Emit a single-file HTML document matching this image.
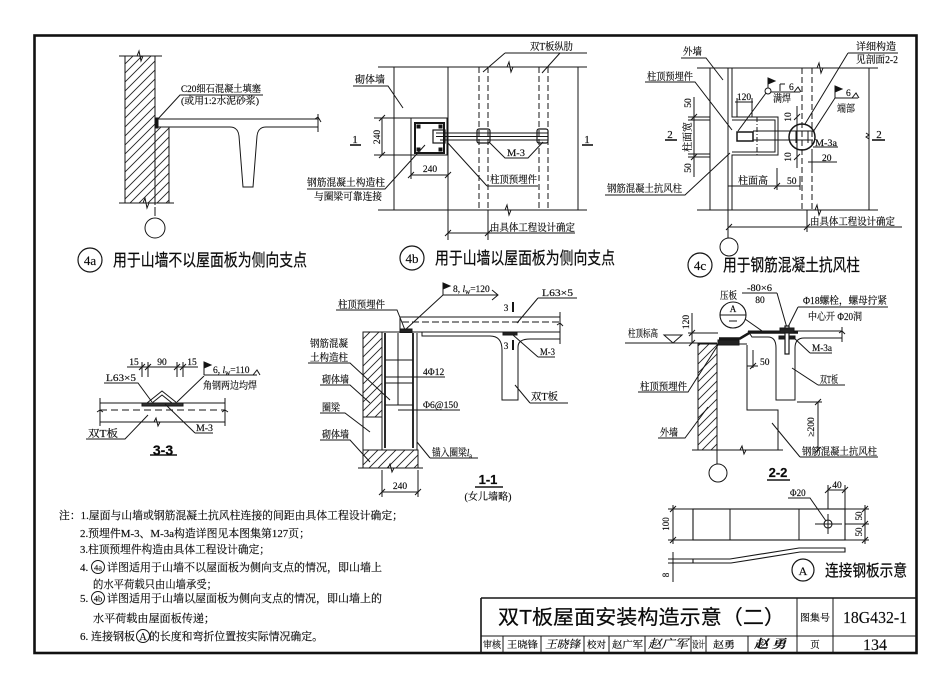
<!DOCTYPE html>
<html><head><meta charset="utf-8">
<style>
html,body{margin:0;padding:0;background:#fff;}
svg{display:block;}
text{fill:#0a0a0a;}
.s text{stroke:#0a0a0a;stroke-width:0.15;}
.s{font-family:"Liberation Serif","Noto Serif CJK SC",serif;font-size:10px;}
.h{font-family:"Liberation Sans","Noto Sans CJK SC",sans-serif;}
.h text{stroke:#0a0a0a;stroke-width:0.2;}
</style></head><body>
<svg width="950" height="691" viewBox="0 0 950 691" xmlns="http://www.w3.org/2000/svg">
<defs>
<pattern id="hat" patternUnits="userSpaceOnUse" width="9" height="9">
<path d="M0,9 L9,0 M-2,2 L2,-2 M7,11 L11,7" stroke="#222" stroke-width="0.9"/>
</pattern>
</defs>
<rect width="950" height="691" fill="#fff"/>

<!-- frame -->
<rect x="34.5" y="35.5" width="882" height="617.5" fill="none" stroke="#111" stroke-width="2.6"/>

<g fill="none" stroke="#161616" stroke-width="1">

<!-- ============ 4a ============ -->
<rect x="125" y="56" width="30" height="147" fill="url(#hat)"/>
<rect x="155" y="127" width="14" height="76" fill="url(#hat)"/>
<path d="M125,56 V203 M155,56 V127 H169 V203"/>
<path d="M119,56 H162 M119,203 H174"/>
<path d="M137,56 l2,-5 l2,10 l2,-5" />
<path d="M143,203 l2,-5 l2,10 l2,-5" />
<rect x="155" y="118" width="3" height="10" fill="#111"/>
<path d="M157,119 H318 M157,127 H230 Q238,127 239,136 L243,187 H253 L257,136 Q258,127 266,127 H318"/>
<path d="M318,114 V132 M315,119 l3,-2 l3,5"/>
<path d="M155,132 V218" stroke-dasharray="9,2,2,2"/>
<circle cx="155" cy="228" r="10"/>
<path d="M157,120 L180,95 H263"/>

<!-- ============ 4b ============ -->
<path d="M378,67 H587 M378,210 H587 M394,67 V210 M448,67 V240 M578,67 V210"/>
<path d="M507,67 l2,-5 l2,10 l2,-5 M505,210 l2,-5 l2,10 l2,-5"/>
<path d="M479,67 V210 M488,67 V210 M539,67 V210 M548,67 V210" stroke-dasharray="6,3"/>
<path d="M488,210 V240"/>
<rect x="411" y="118" width="36" height="37"/>
<rect x="415" y="123" width="29" height="30" stroke-width="2"/>
<rect x="417" y="125" width="3" height="3" fill="#111"/>
<rect x="439" y="125" width="3" height="3" fill="#111"/>
<rect x="417" y="148" width="3" height="3" fill="#111"/>
<rect x="439" y="148" width="3" height="3" fill="#111"/>
<rect x="433" y="130" width="12" height="13" stroke-width="1.2"/>
<path d="M436,133 H548 M436,136.5 H548 M440,140 H548"/>
<rect x="477" y="129" width="13" height="14" rx="2" stroke-width="1.2"/>
<rect x="537" y="129" width="11" height="14" rx="2" stroke-width="1.2"/>
<path d="M382,118 V155 M374,118 H411 M374,155 H411 M379,121 L385,115 M379,158 L385,152"/>
<path d="M411,155 V179 M411,175 H448 M408,178 L414,172 M445,178 L451,172"/>
<path d="M350,145 H361" stroke-width="1.6"/>
<path d="M582,145 H593" stroke-width="1.6"/>
<path d="M353,86 H388 L403,108"/>
<path d="M505,53 H587 M505,53 L483,72 M560,53 L542,73"/>
<path d="M489,142 L505,158 H528 L543,142"/>
<path d="M487,186 H538 M487,186 L447,142"/>
<path d="M307,189 H385 L425,145"/>
<path d="M448,233 H488 M445,236 L451,230 M485,236 L491,230 M488,233 H575"/>

<!-- ============ 4c ============ -->
<path d="M697,68 H878 M697,210 H878"/>
<path d="M817,68 l2,-5 l2,10 l2,-5 M815,210 l2,-5 l2,10 l2,-5"/>
<path d="M710,68 V210 M728,68 V238 M732,68 V117 H778 V155 H732 V210 M732,120 H775 V152 H732 M869,68 V210"/>
<path d="M866,133 l3,2 l-3,2 l3,2"/>
<path d="M802,68 V210 M812,68 V210" stroke-dasharray="6,3"/>
<path d="M807,210 V232"/>
<circle cx="729" cy="247" r="9"/>
<rect x="737" y="132" width="16" height="9" stroke-width="1.5"/>
<path d="M757,117 V155" stroke-dasharray="5,2,1,2"/>
<path d="M753,131 H813 M753,140 H813"/>
<circle cx="802" cy="137" r="13" stroke-width="1.5"/>
<path d="M796,131 V143 M808,131 V143"/>
<path d="M735,102 H753 M737,98 V117 M752,98 V117"/>
<path d="M797,106 V168 M794,120 L800,114 M794,160 L800,154"/>
<path d="M808,162 H837 M812,150 V168"/>
<path d="M813,147 H838"/>
<path d="M694,97 V177 M688,117 H710 M688,120 H710 M688,154 H710 M688,157 H710 M691,120 L697,114 M691,160 L697,154"/>
<path d="M665,140 H677" stroke-width="1.6"/>
<path d="M872,140 H885" stroke-width="1.6"/>
<path d="M728,186 H800 M777,168 V190 M800,176 V190 M774,189 L780,183"/>
<path d="M681,58 H706 L723,80"/>
<path d="M645,82 H695 L732,130"/>
<path d="M605,195 H685 L730,153"/>
<circle cx="768" cy="91" r="3"/>
<path d="M768,88 V78"/>
<path d="M768,78 L775,81 L768,84 Z" fill="#111"/>
<path d="M771,92 H800 M794,92 L798,87 L801,92"/>
<path d="M780,84 H785 M780,84 V91"/>
<path d="M738,131 L766,93"/>
<path d="M835,98 V86"/>
<path d="M835,86 L842,89 L835,92 Z" fill="#111"/>
<path d="M835,98 H858 M852,98 L856,93 L859,98"/>
<path d="M835,98 L813,132"/>
<path d="M848,53 H898 M848,53 L805,124"/>
<path d="M729,227 H807 M726,230 L732,224 M804,230 L810,224 M807,227 H902"/>

<!-- ============ 3-3 ============ -->
<path d="M127,367 H198 M142,362 V377 M148,362 V377 M177,362 V377 M183,362 V377"/>
<path d="M139,370 L145,364 M145,370 L151,364 M174,370 L180,364 M180,370 L186,364"/>
<path d="M204,375 V362"/>
<path d="M204,362 L211,365 L204,368 Z" fill="#111"/>
<path d="M204,375 H257 M253,375 L257,370 L260,375"/>
<path d="M204,376 L177,402"/>
<path d="M104,383 H138 L152,402"/>
<path d="M147,403 L162,391 L177,403 M152,403 L162,395 L172,403"/>
<rect x="142" y="403" width="41" height="3" fill="#333"/>
<path d="M100,403 H225 M100,422 H225 M100,398 V426 M225,398 V426"/>
<path d="M100,410 H225" stroke-dasharray="7,4"/>
<path d="M97,412 l3,-2 l3,2 M222,412 l3,-2 l3,2"/>
<path d="M154,422 l2,-4 l2,8 l2,-4"/>
<path d="M86,439 H125 L148,415"/>
<path d="M195,433 H213 M195,433 L165,404"/>
<path d="M150,455 H177" stroke-width="1.5"/>

<!-- ============ 1-1 ============ -->
<path d="M443,295 V283"/>
<path d="M443,283 L450,286 L443,289 Z" fill="#111"/>
<path d="M443,295 H498 M492,290 L498,295 L492,300"/>
<path d="M405,330 L443,295"/>
<path d="M400,317 H560 M400,332 H560 M400,317 V332"/>
<path d="M402,322 H560" stroke-dasharray="7,3"/>
<path d="M422,332 V336 H490 Q502,336 502,350 V400 H518 V347 Q518,339 530,339 H560"/>
<path d="M560,312 V344 M557,325 l3,-2 l3,3"/>
<rect x="503" y="332" width="14" height="3" fill="#222"/>
<path d="M513,302 V312 M513,340 V350" stroke-width="2"/>
<path d="M538,298 H577 M538,298 L517,323"/>
<path d="M538,357 H555 M538,357 L513,335"/>
<path d="M530,403 H568 M530,403 L515,385"/>
<rect x="363" y="332" width="19" height="85" fill="url(#hat)"/>
<rect x="363" y="450" width="55" height="18" fill="url(#hat)"/>
<path d="M363,332 V468 M363,332 H400 M363,417 H382 M382,332 V450 M417,333 V450 M363,450 H418"/>
<path d="M385,333 V448 M413,333 V448" stroke-width="1.8"/>
<path d="M385,360 H413 M385,377 H413 M385,383 H413 M385,405 H413 M398,333 V405"/>
<rect x="400" y="329" width="12" height="3.5" fill="#222"/>
<path d="M358,468 H423 M388,468 l2,-4 l2,8 l2,-4"/>
<path d="M336,310 H397 L405,330"/>
<path d="M308,363 H350 L390,400"/>
<path d="M320,385 H350 L370,403"/>
<path d="M320,413 H345 L370,432"/>
<path d="M320,440 H350 L370,462"/>
<path d="M385,377 H445"/>
<path d="M398,410 H460"/>
<path d="M430,458 H478 M430,458 L417,442"/>
<path d="M382,470 V497 M418,470 V497 M382,492 H418 M379,495 L385,489 M415,495 L421,489"/>
<path d="M475,487 H503" stroke-width="1.5"/>

<!-- ============ 2-2 ============ -->
<path d="M742,293 H777 M777,293 L787,328"/>
<circle cx="733" cy="315" r="13" stroke-width="1.1"/>
<path d="M720,315 H746 M729,321 H737"/>
<path d="M745,319 L765,333"/>
<path d="M798,307 H888 M798,307 L787,329"/>
<path d="M692,313 V343 M688,333 H718 M657,343 H717 M689,336 L695,330 M689,346 L695,340"/>
<path d="M625,343 H657"/>
<path d="M664,335 L682,335 L673,343 Z"/>
<rect x="698" y="344" width="19" height="106" fill="url(#hat)"/>
<path d="M698,344 V450 M717,344 V450 M717,344 H747 M747,345 V410 H778 V450"/>
<rect x="718" y="340" width="21" height="5" fill="#222"/>
<path d="M719,338.5 H740 L750,332.5 H798" stroke-width="2.6"/>
<path d="M748,331 H842 M748,331 L752,337 H768 Q776,337 776,348 V400 H795 V348 Q795,338 804,338 H842"/>
<path d="M842,327 V342 M839,333 l3,-2 l3,3"/>
<rect x="779" y="336" width="16" height="3" fill="#222"/>
<rect x="785" y="326" width="4" height="28" fill="#fff" stroke-width="1.2"/>
<rect x="780" y="328" width="14" height="5" fill="#222"/>
<path d="M810,353 H832 M810,353 L793,337"/>
<path d="M753,350 V368 M747,366 H758 M750,369 L756,363"/>
<path d="M818,385 H845 M818,385 L792,368"/>
<path d="M818,402 V450 M797,402 H822 M815,405 L821,399 M815,453 L821,447"/>
<path d="M800,457 H878 M800,457 L772,423"/>
<path d="M638,392 H688 L718,345"/>
<path d="M658,438 H685 L708,407"/>
<path d="M692,450 H783 M740,450 l2,-4 l2,8 l2,-4"/>
<path d="M717,450 V464"/>
<circle cx="718" cy="473" r="9"/>
<path d="M767,480 H790" stroke-width="1.5"/>

<!-- ============ Plate A ============ -->
<path d="M788,498 H810 L826,521"/>
<path d="M828,490 H845 M828,485 V509 M845,485 V509 M825,493 L831,487 M842,493 L848,487"/>
<rect x="693" y="509" width="152" height="31" stroke-width="1.1"/>
<path d="M730,509 V540 M799,509 V540"/>
<circle cx="828" cy="524" r="4" stroke-width="1.1"/>
<path d="M815,524 H842 M828,514 V534"/>
<path d="M673,505 V544 M668,509 H693 M668,540 H693 M670,512 L676,506 M670,543 L676,537"/>
<path d="M865,505 V544 M845,509 H869 M845,524 H869 M845,540 H869 M862,512 L868,506 M862,527 L868,521 M862,543 L868,537"/>
<path d="M693,559 H730 L799,548 H845 V552 H800 L731,563 H693 Z" stroke-width="1.1"/>
<path d="M673,552 V582 M668,559 H693 M668,563 H693"/>
<circle cx="803" cy="570" r="11" stroke-width="1.2"/>

<!-- ============ Title block ============ -->
<path d="M481,598 H917 M481,598 V653" stroke-width="1.6"/>
<path d="M481,636 H797 M797,598 V653 M833,598 V653 M797,636 H917"/>
<path d="M503,636 V653 M541,636 V653 M584,636 V653 M609,636 V653 M645,636 V653 M691,636 V653 M706,636 V653 M748,636 V653"/>

<!-- label circles -->
<circle cx="90" cy="260" r="12" stroke-width="1.2"/>
<circle cx="412" cy="258" r="12" stroke-width="1.2"/>
<circle cx="700" cy="265" r="12" stroke-width="1.2"/>
<!-- note circles -->
<circle cx="98" cy="567" r="6.5"/>
<circle cx="98" cy="598" r="6.5"/>
<circle cx="143" cy="636" r="6.5"/>
</g>

<!-- ================= TEXT ================= -->
<g class="s">
<!-- 4a -->
<text x="181" y="92" font-size="9.5" textLength="80" lengthAdjust="spacingAndGlyphs">C20细石混凝土填塞</text>
<text x="181" y="104" font-size="9.5" textLength="78" lengthAdjust="spacingAndGlyphs">(或用1:2水泥砂浆)</text>
<!-- 4b -->
<text x="355" y="83" textLength="30" lengthAdjust="spacingAndGlyphs">砌体墙</text>
<text x="530" y="50" textLength="43" lengthAdjust="spacingAndGlyphs">双T板纵肋</text>
<text x="507" y="156" font-size="9.5" textLength="18" lengthAdjust="spacingAndGlyphs">M-3</text>
<text x="490" y="183" textLength="47" lengthAdjust="spacingAndGlyphs">柱顶预埋件</text>
<text x="307" y="186" textLength="78" lengthAdjust="spacingAndGlyphs">钢筋混凝土构造柱</text>
<text x="314" y="200" textLength="68" lengthAdjust="spacingAndGlyphs">与圈梁可靠连接</text>
<text x="490" y="231" textLength="85" lengthAdjust="spacingAndGlyphs">由具体工程设计确定</text>
<text font-size="9.5" text-anchor="middle" transform="translate(377,137) rotate(-90)" dy="3">240</text>
<text x="430" y="172" font-size="9.5" text-anchor="middle">240</text>
<text x="355" y="143" font-size="11" text-anchor="middle">1</text>
<text x="587" y="143" font-size="11" text-anchor="middle">1</text>
<!-- 4c -->
<text x="683" y="55" textLength="19" lengthAdjust="spacingAndGlyphs">外墙</text>
<text x="647" y="80" textLength="46" lengthAdjust="spacingAndGlyphs">柱顶预埋件</text>
<text x="607" y="192" textLength="75" lengthAdjust="spacingAndGlyphs">钢筋混凝土抗风柱</text>
<text x="744" y="100" font-size="9.5" text-anchor="middle">120</text>
<text x="789" y="90" font-size="9.5">6</text>
<text x="773" y="102" textLength="18" lengthAdjust="spacingAndGlyphs">满焊</text>
<text x="846" y="96" font-size="9.5">6</text>
<text x="837" y="112" textLength="18" lengthAdjust="spacingAndGlyphs">端部</text>
<text x="856" y="50" textLength="40" lengthAdjust="spacingAndGlyphs">详细构造</text>
<text x="856" y="63" textLength="42" lengthAdjust="spacingAndGlyphs">见剖面2-2</text>
<text font-size="9.5" text-anchor="middle" transform="translate(788,117) rotate(-90)" dy="3">10</text>
<text font-size="9.5" text-anchor="middle" transform="translate(788,157) rotate(-90)" dy="3">10</text>
<text x="822" y="161" font-size="9.5">20</text>
<text x="815" y="146" font-size="9.5" textLength="22" lengthAdjust="spacingAndGlyphs">M-3a</text>
<text font-size="9.5" text-anchor="middle" transform="translate(688,103) rotate(-90)" dy="3">50</text>
<text text-anchor="middle" transform="translate(688,137) rotate(-90)" dy="3">柱面宽</text>
<text font-size="9.5" text-anchor="middle" transform="translate(688,168) rotate(-90)" dy="3">50</text>
<text x="670" y="138" font-size="11" text-anchor="middle">2</text>
<text x="879" y="138" font-size="11" text-anchor="middle">2</text>
<text x="738" y="184" textLength="30" lengthAdjust="spacingAndGlyphs">柱面高</text>
<text x="787" y="184" font-size="9.5">50</text>
<text x="810" y="225" textLength="85" lengthAdjust="spacingAndGlyphs">由具体工程设计确定</text>
<!-- 3-3 -->
<text x="134" y="365" font-size="9.5" text-anchor="middle">15</text>
<text x="162" y="365" font-size="9.5" text-anchor="middle">90</text>
<text x="192" y="365" font-size="9.5" text-anchor="middle">15</text>
<text x="213" y="373" font-size="9.5">6, <tspan font-style="italic">l</tspan><tspan font-size="7" dy="2">w</tspan><tspan dy="-2">=110</tspan></text>
<text x="203" y="389" textLength="54" lengthAdjust="spacingAndGlyphs">角钢两边均焊</text>
<text x="106" y="381" font-size="9.5" textLength="30" lengthAdjust="spacingAndGlyphs">L63×5</text>
<text x="88" y="437" textLength="30" lengthAdjust="spacingAndGlyphs">双T板</text>
<text x="196" y="431" font-size="9.5" textLength="17" lengthAdjust="spacingAndGlyphs">M-3</text>
<!-- 1-1 -->
<text x="453" y="292" font-size="9.5">8, <tspan font-style="italic">l</tspan><tspan font-size="7" dy="2">w</tspan><tspan dy="-2">=120</tspan></text>
<text x="542" y="296" font-size="9.5" textLength="31" lengthAdjust="spacingAndGlyphs">L63×5</text>
<text x="506" y="311" font-size="9.5" text-anchor="middle">3</text>
<text x="506" y="349" font-size="9.5" text-anchor="middle">3</text>
<text x="540" y="355" font-size="9.5" textLength="15" lengthAdjust="spacingAndGlyphs">M-3</text>
<text x="531" y="400" textLength="27" lengthAdjust="spacingAndGlyphs">双T板</text>
<text x="338" y="308" textLength="47" lengthAdjust="spacingAndGlyphs">柱顶预埋件</text>
<text x="310" y="347" textLength="38" lengthAdjust="spacingAndGlyphs">钢筋混凝</text>
<text x="310" y="361" textLength="38" lengthAdjust="spacingAndGlyphs">土构造柱</text>
<text x="322" y="383" textLength="27" lengthAdjust="spacingAndGlyphs">砌体墙</text>
<text x="322" y="411" textLength="18" lengthAdjust="spacingAndGlyphs">圈梁</text>
<text x="322" y="438" textLength="27" lengthAdjust="spacingAndGlyphs">砌体墙</text>
<text x="423" y="375" font-size="9.5">4Φ12</text>
<text x="423" y="408" font-size="9.5" textLength="35" lengthAdjust="spacingAndGlyphs">Φ6@150</text>
<text x="432" y="456" textLength="40" lengthAdjust="spacingAndGlyphs">锚入圈梁<tspan font-style="italic">l</tspan><tspan font-size="7" dy="2">a</tspan></text>
<text x="400" y="489" font-size="9.5" text-anchor="middle">240</text>
<text x="488" y="500" text-anchor="middle" textLength="47" lengthAdjust="spacingAndGlyphs">(女儿墙略)</text>
<!-- 2-2 -->
<text x="720" y="299" textLength="17" lengthAdjust="spacingAndGlyphs">压板</text>
<text x="747" y="291" font-size="9.5" textLength="25" lengthAdjust="spacingAndGlyphs">-80×6</text>
<text x="760" y="303" font-size="9.5" text-anchor="middle">80</text>
<text x="733" y="312" font-size="9" text-anchor="middle">A</text>
<text x="803" y="304" textLength="84" lengthAdjust="spacingAndGlyphs">Φ18螺栓，螺母拧紧</text>
<text x="808" y="320" textLength="54" lengthAdjust="spacingAndGlyphs">中心开 Φ20洞</text>
<text font-size="9.5" text-anchor="middle" transform="translate(686,322) rotate(-90)" dy="3">120</text>
<text x="628" y="337" textLength="30" lengthAdjust="spacingAndGlyphs">柱顶标高</text>
<text x="812" y="351" font-size="9.5" textLength="20" lengthAdjust="spacingAndGlyphs">M-3a</text>
<text x="760" y="365" font-size="9.5">50</text>
<text x="820" y="383" textLength="18" lengthAdjust="spacingAndGlyphs">双T板</text>
<text font-size="9.5" text-anchor="middle" transform="translate(811,427) rotate(-90)" dy="3">≥200</text>
<text x="802" y="455" textLength="75" lengthAdjust="spacingAndGlyphs">钢筋混凝土抗风柱</text>
<text x="640" y="390" textLength="47" lengthAdjust="spacingAndGlyphs">柱顶预埋件</text>
<text x="660" y="436" textLength="18" lengthAdjust="spacingAndGlyphs">外墙</text>
<!-- plate A -->
<text x="790" y="496" font-size="9">Φ20</text>
<text x="837" y="488" font-size="9.5" text-anchor="middle">40</text>
<text font-size="9" text-anchor="middle" transform="translate(666,524) rotate(-90)" dy="3">100</text>
<text font-size="9" text-anchor="middle" transform="translate(859,516) rotate(-90)" dy="3">50</text>
<text font-size="9" text-anchor="middle" transform="translate(859,532) rotate(-90)" dy="3">50</text>
<text font-size="9" text-anchor="middle" transform="translate(666,575) rotate(-90)" dy="3">8</text>
<text x="803" y="575" font-size="12" text-anchor="middle">A</text>

<!-- label circle text -->
<text x="90" y="265" font-size="13" text-anchor="middle">4a</text>
<text x="412" y="263" font-size="13" text-anchor="middle">4b</text>
<text x="700" y="270" font-size="13" text-anchor="middle">4c</text>

<!-- notes -->
<text x="59" y="519" font-size="11" textLength="344" lengthAdjust="spacingAndGlyphs">注：1.屋面与山墙或钢筋混凝土抗风柱连接的间距由具体工程设计确定；</text>
<text x="80" y="537" font-size="11" textLength="230" lengthAdjust="spacingAndGlyphs">2.预埋件M-3、M-3a构造详图见本图集第127页；</text>
<text x="80" y="553" font-size="11" textLength="190" lengthAdjust="spacingAndGlyphs">3.柱顶预埋件构造由具体工程设计确定；</text>
<text x="80" y="571" font-size="11">4.</text>
<text x="98" y="570.5" font-size="8.5" text-anchor="middle">4a</text>
<text x="107" y="571" font-size="11" textLength="275" lengthAdjust="spacingAndGlyphs">详图适用于山墙不以屋面板为侧向支点的情况，即山墙上</text>
<text x="93" y="588" font-size="11" textLength="124" lengthAdjust="spacingAndGlyphs">的水平荷载只由山墙承受；</text>
<text x="80" y="602" font-size="11">5.</text>
<text x="98" y="601.5" font-size="8.5" text-anchor="middle">4b</text>
<text x="107" y="602" font-size="11" textLength="275" lengthAdjust="spacingAndGlyphs">详图适用于山墙以屋面板为侧向支点的情况，即山墙上的</text>
<text x="93" y="622" font-size="11" textLength="122" lengthAdjust="spacingAndGlyphs">水平荷载由屋面板传递；</text>
<text x="80" y="640" font-size="11" textLength="55" lengthAdjust="spacingAndGlyphs">6. 连接钢板</text>
<text x="143" y="640" font-size="10" text-anchor="middle">A</text>
<text x="149" y="640" font-size="11" textLength="174" lengthAdjust="spacingAndGlyphs">的长度和弯折位置按实际情况确定。</text>

<!-- title block small -->
<text x="483" y="648" font-size="9.5" textLength="18" lengthAdjust="spacingAndGlyphs">审核</text>
<text x="507" y="648" font-size="9.5" textLength="31" lengthAdjust="spacingAndGlyphs">王晓锋</text>
<text x="545" y="648" font-size="11" font-style="italic" textLength="35" lengthAdjust="spacingAndGlyphs">王晓锋</text>
<text x="587" y="648" font-size="9.5" textLength="19" lengthAdjust="spacingAndGlyphs">校对</text>
<text x="612" y="648" font-size="9.5" textLength="31" lengthAdjust="spacingAndGlyphs">赵广军</text>
<text x="648" y="648" font-size="12" font-style="italic" textLength="40" lengthAdjust="spacingAndGlyphs">赵广军</text>
<text x="692" y="648" font-size="9.5" textLength="13" lengthAdjust="spacingAndGlyphs">设计</text>
<text x="713" y="648" font-size="9.5" textLength="22" lengthAdjust="spacingAndGlyphs">赵勇</text>
<text x="754" y="648" font-size="12" font-weight="bold" font-style="italic" textLength="32" lengthAdjust="spacingAndGlyphs">赵 勇</text>
<text x="815" y="648" font-size="9.5" text-anchor="middle">页</text>
<text x="815" y="621" font-size="9.5" text-anchor="middle" textLength="30" lengthAdjust="spacingAndGlyphs">图集号</text>
<text x="875" y="623" font-size="17" text-anchor="middle" textLength="64" lengthAdjust="spacingAndGlyphs">18G432-1</text>
<text x="875" y="650" font-size="16" text-anchor="middle">134</text>
</g>

<g class="h">
<text x="113" y="266" font-size="17" textLength="194" lengthAdjust="spacingAndGlyphs">用于山墙不以屋面板为侧向支点</text>
<text x="435" y="264" font-size="17" textLength="180" lengthAdjust="spacingAndGlyphs">用于山墙以屋面板为侧向支点</text>
<text x="723" y="271" font-size="17" textLength="137" lengthAdjust="spacingAndGlyphs">用于钢筋混凝土抗风柱</text>
<text x="825" y="576" font-size="16" textLength="82" lengthAdjust="spacingAndGlyphs">连接钢板示意</text>
<text x="163" y="455" font-size="14" text-anchor="middle" font-weight="bold">3-3</text>
<text x="488" y="484" font-size="13" text-anchor="middle" font-weight="bold">1-1</text>
<text x="778" y="477" font-size="13" text-anchor="middle" font-weight="bold">2-2</text>
<text x="498" y="624" font-size="20" textLength="287" lengthAdjust="spacingAndGlyphs">双T板屋面安装构造示意（二）</text>
</g>
</svg>
</body></html>
